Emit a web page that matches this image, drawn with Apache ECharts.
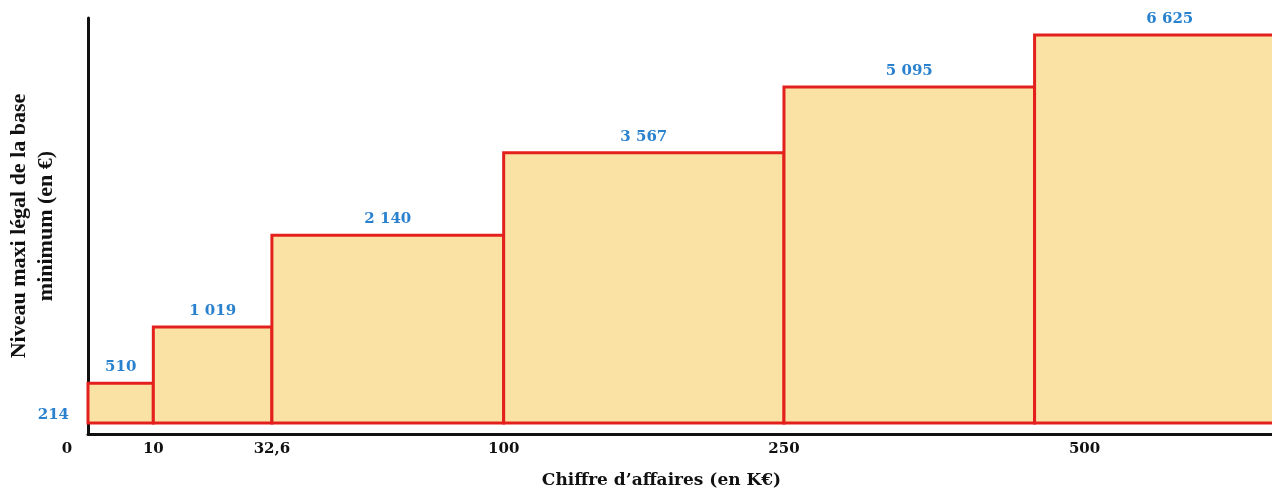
<!DOCTYPE html>
<html>
<head>
<meta charset="utf-8">
<script src="https://cdn.jsdelivr.net/npm/echarts@6/dist/echarts.min.js"></script>
<style>
  html, body { margin: 0; padding: 0; background: #ffffff; }
  #chart { width: 1272px; height: 488px; }
</style>
</head>
<body>
<div id="chart"></div>
<script>
// ---- data ----
const thresholds = [0, 10, 32.6, 100, 250, 500];            // CA bracket lower bounds (K€)
const tickLabels = ['0', '10', '32,6', '100', '250', '500'];
const maxBase = [510, 1019, 2140, 3567, 5095, 6625];          // max legal base per bracket (€)
const minBase = 214;                                          // common minimum (€)
const xEnd = 1000;                                            // open end of last bracket as drawn
const yRange = [140, 7200];

// The original figure is schematic (not linear): mimic its spacing
const sx = t => Math.log(t + 60);
const sy = v => Math.log(v + 1500);

const fmt = v => String(v).replace(/\B(?=(\d{3})+(?!\d))/g, ' ');
const bars = maxBase.map((v, i) => [
  sx(thresholds[i]),
  sx(i + 1 < thresholds.length ? thresholds[i + 1] : xEnd),
  sy(v),
  v
]);

const BLUE = '#2a82cf';
const SERIF_W = '"DejaVu Serif", serif';

const chart = echarts.init(document.getElementById('chart'), null, { renderer: 'canvas' });
chart.setOption({
  backgroundColor: '#ffffff',
  animation: false,
  grid: { left: 88, right: -33, top: 18, bottom: 54, containLabel: false, outerBoundsMode: 'none' },
  xAxis: {
    type: 'value',
    min: sx(0),
    max: sx(xEnd),
    splitLine: { show: false },
    axisTick: { show: false },
    axisLine: { show: true, lineStyle: { color: '#111', width: 3 } },
    axisLabel: {
      customValues: thresholds.map(sx),
      margin: 8,
      color: '#111',
      fontFamily: SERIF_W,
      fontWeight: 'bold',
      fontSize: 15,
      formatter: function (val) {
        let idx = 0, best = Infinity;
        thresholds.forEach((t, i) => { const d = Math.abs(sx(t) - val); if (d < best) { best = d; idx = i; } });
        const s = tickLabels[idx];
        if (idx === 0) return '{z|' + s + '}';
        if (idx === thresholds.length - 1) return '{f|' + s + '}';
        return s;
      },
      rich: {
        z: { padding: [0, 42, 0, 0], color: '#111', fontFamily: SERIF_W, fontWeight: 'bold', fontSize: 15 },
        f: { padding: [0, 0, 0, 100], color: '#111', fontFamily: SERIF_W, fontWeight: 'bold', fontSize: 15 }
      }
    },
    name: 'Chiffre d’affaires (en K€)',
    nameLocation: 'middle',
    nameGap: 38,
    nameMoveOverlap: false,
    nameTextStyle: {
      color: '#111', fontFamily: SERIF_W, fontWeight: 'bold', fontSize: 17,
      padding: [0, 70, 0, 0]
    }
  },
  yAxis: {
    type: 'value',
    min: sy(yRange[0]),
    max: sy(yRange[1]),
    splitLine: { show: false },
    axisTick: { show: false },
    axisLine: { show: true, lineStyle: { color: '#111', width: 3 } },
    axisLabel: {
      customValues: [sy(minBase)],
      formatter: () => fmt(minBase),
      margin: 19,
      verticalAlign: 'bottom',
      color: BLUE,
      fontFamily: SERIF_W,
      fontWeight: 'bold',
      fontSize: 15
    },
    name: 'Niveau maxi légal de la base\nminimum (en €)',
    nameLocation: 'middle',
    nameRotate: 90,
    nameGap: 28,
    nameMoveOverlap: false,
    nameTextStyle: {
      color: '#111', fontFamily: '"Liberation Serif", serif', fontWeight: 'bold',
      fontSize: 22, lineHeight: 27, align: 'center'
    }
  },
  series: [{
    type: 'custom',
    clip: false,
    data: bars,
    encode: { x: [0, 1], y: 2 },
    renderItem: function (params, api) {
      const p0 = api.coord([api.value(0), sy(minBase)]);
      const p1 = api.coord([api.value(1), api.value(2)]);
      const raw = api.value(3);
      return {
        type: 'group',
        children: [
          {
            type: 'rect',
            shape: { x: p0[0], y: p1[1], width: p1[0] - p0[0], height: p0[1] - p1[1] },
            style: { fill: '#f9e2a3', stroke: '#e3201e', lineWidth: 3 }
          },
          {
            type: 'text',
            x: (p0[0] + p1[0]) / 2,
            y: p1[1] - 16,
            style: {
              text: fmt(raw),
              fill: BLUE,
              font: 'bold 15px ' + SERIF_W,
              textAlign: 'center',
              textVerticalAlign: 'middle',
              align: 'center',
              verticalAlign: 'middle'
            }
          }
        ]
      };
    }
  }]
});
</script>
</body>
</html>
